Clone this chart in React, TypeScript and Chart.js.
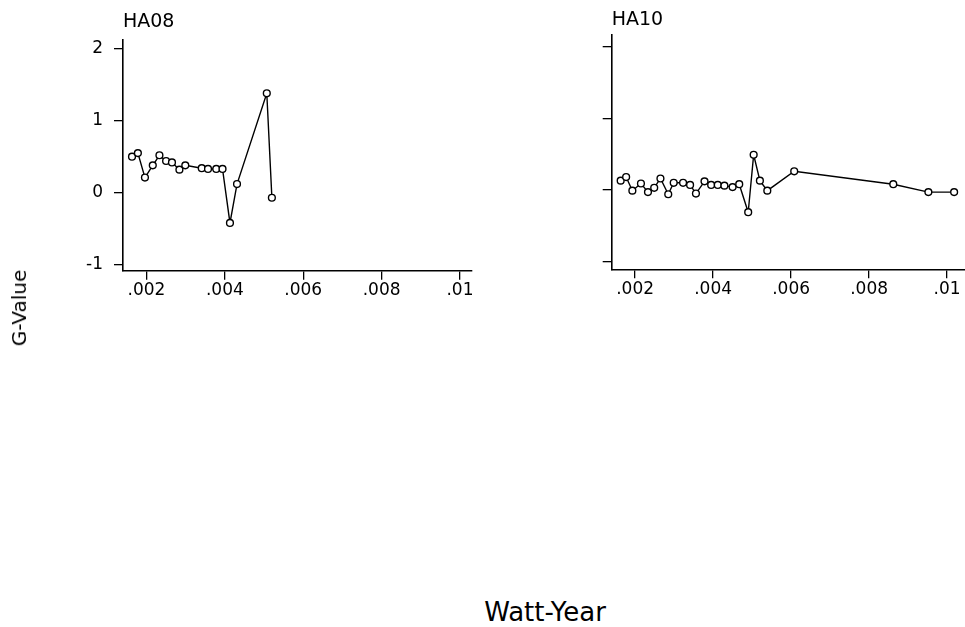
import React, { useEffect, useRef } from 'react';
import { Chart, registerables } from 'chart.js';

Chart.register(...registerables);

// ---- Data ----
const HA08_X = [0.00163, 0.00178, 0.00196, 0.00216, 0.00233, 0.0025, 0.00265, 0.00284, 0.00299, 0.00341, 0.00357, 0.00378, 0.00394, 0.00413, 0.00431, 0.00507, 0.0052];
const HA08_Y = [0.5, 0.55, 0.21, 0.38, 0.52, 0.44, 0.42, 0.32, 0.38, 0.34, 0.33, 0.33, 0.33, -0.42, 0.12, 1.38, -0.07];

const HA10_X = [0.00163, 0.00177, 0.00193, 0.00215, 0.00233, 0.00249, 0.00265, 0.00285, 0.00299, 0.00323, 0.00341, 0.00356, 0.00378, 0.00395, 0.00412, 0.00429, 0.0045, 0.00467, 0.0049, 0.00504, 0.0052, 0.00539, 0.00608, 0.00862, 0.00952, 0.01018];
const HA10_Y = [0.13, 0.18, -0.01, 0.09, -0.03, 0.03, 0.16, -0.06, 0.1, 0.1, 0.07, -0.05, 0.12, 0.07, 0.07, 0.06, 0.04, 0.08, -0.31, 0.49, 0.13, -0.01, 0.26, 0.08, -0.03, -0.03];

const X_TICK_VALUES = [0.002, 0.004, 0.006, 0.008, 0.01];
const X_TICK_LABELS = ['.002', '.004', '.006', '.008', '.01'];
const Y_TICK_VALUES = [-1, 0, 1, 2];
const Y_TICK_LABELS = ['-1', '0', '1', '2'];

const PANEL_TITLES = ['HA08', 'HA10'];
const X_TITLE = 'Watt-Year';
const Y_TITLE = 'G-Value';

const FONT = '"DejaVu Sans", "Liberation Sans", Arial, sans-serif';

type PanelProps = {
  title: string;
  xs: number[];
  ys: number[];
  showYLabels: boolean;
  left: number;
  width: number;
  height: number;
  padTop: number;
  padRight: number;
  yAxisWidth: number;
  xAxisHeight: number;
  xMin: number;
  xMax: number;
  yMin: number;
  yMax: number;
  titleBaseline: number;
};

function Panel(p: PanelProps) {
  const ref = useRef<HTMLCanvasElement | null>(null);
  useEffect(() => {
    if (!ref.current) return;
    const titlePlugin = {
      id: 'panelTitle',
      afterDraw(chart: any) {
        const ctx = chart.ctx;
        ctx.save();
        ctx.font = `19px ${FONT}`;
        ctx.fillStyle = '#000';
        ctx.textBaseline = 'alphabetic';
        ctx.textAlign = 'left';
        ctx.fillText(p.title, chart.chartArea.left, p.titleBaseline);
        ctx.restore();
      },
    };
    const chart = new Chart(ref.current, {
      type: 'line',
      data: {
        datasets: [
          {
            data: p.xs.map((x, i) => ({ x, y: p.ys[i] })),
            borderColor: '#000',
            borderWidth: 1.4,
            pointRadius: 3.4,
            pointBorderWidth: 1.4,
            pointBackgroundColor: '#fff',
            pointBorderColor: '#000',
            tension: 0,
            fill: false,
          },
        ],
      },
      options: {
        responsive: false,
        animation: false,
        devicePixelRatio: 1,
        events: [],
        layout: { padding: { top: p.padTop, right: p.padRight, left: 0, bottom: 0 } },
        plugins: {
          legend: { display: false },
          tooltip: { enabled: false },
          title: { display: false },
        },
        scales: {
          x: {
            type: 'linear',
            min: p.xMin,
            max: p.xMax,
            afterBuildTicks: (s: any) => {
              s.ticks = X_TICK_VALUES.map((v) => ({ value: v }));
            },
            afterFit: (s: any) => {
              s.height = p.xAxisHeight;
            },
            ticks: {
              callback: (v: any) => {
                const i = X_TICK_VALUES.indexOf(v);
                return i >= 0 ? X_TICK_LABELS[i] : '';
              },
              font: { family: FONT, size: 17 },
              color: '#000',
              padding: 1,
              maxRotation: 0,
              autoSkip: false,
            },
            grid: { drawOnChartArea: false, drawTicks: true, tickLength: 9, color: '#000', lineWidth: 1.3 },
            border: { color: '#000', width: 1.6 },
          },
          y: {
            type: 'linear',
            min: p.yMin,
            max: p.yMax,
            afterBuildTicks: (s: any) => {
              s.ticks = Y_TICK_VALUES.map((v) => ({ value: v }));
            },
            afterFit: (s: any) => {
              s.width = p.yAxisWidth;
            },
            ticks: {
              callback: (v: any) => {
                if (!p.showYLabels) return '';
                const i = Y_TICK_VALUES.indexOf(v);
                return i >= 0 ? Y_TICK_LABELS[i] : '';
              },
              font: { family: FONT, size: 17 },
              color: '#000',
              padding: 11,
              autoSkip: false,
            },
            grid: { drawOnChartArea: false, drawTicks: true, tickLength: 9, color: '#000', lineWidth: 1.3 },
            border: { color: '#000', width: 1.6 },
          },
        },
      } as any,
      plugins: [titlePlugin],
    });
    return () => chart.destroy();
  }, []);
  return (
    <canvas
      ref={ref}
      width={p.width}
      height={p.height}
      style={{ position: 'absolute', left: p.left, top: 0, width: p.width, height: p.height }}
    />
  );
}

export default function App() {
  return (
    <div
      style={{
        position: 'fixed',
        left: 0,
        top: 0,
        width: 965,
        height: 627,
        overflow: 'hidden',
        background: '#fff',
      }}
    >
      <Panel
        title={PANEL_TITLES[0]}
        xs={HA08_X}
        ys={HA08_Y}
        showYLabels={true}
        left={0}
        width={500}
        height={300}
        padTop={40}
        padRight={28.3}
        yAxisWidth={123}
        xAxisHeight={29.3}
        xMin={0.0014}
        xMax={0.0103}
        yMin={-1.083}
        yMax={2.12}
        titleBaseline={27}
      />
      <Panel
        title={PANEL_TITLES[1]}
        xs={HA10_X}
        ys={HA10_Y}
        showYLabels={false}
        left={560}
        width={420}
        height={300}
        padTop={35}
        padRight={13.4}
        yAxisWidth={51.7}
        xAxisHeight={30.7}
        xMin={0.0014}
        xMax={0.0105}
        yMin={-1.106}
        yMax={2.16}
        titleBaseline={25}
      />
      <div
        style={{
          position: 'absolute',
          left: 19,
          top: 308,
          transform: 'translate(-50%, -50%) rotate(-90deg)',
          fontFamily: FONT,
          fontSize: 20,
          lineHeight: '20px',
          whiteSpace: 'nowrap',
          color: '#000',
        }}
      >
        {Y_TITLE}
      </div>
      <div
        style={{
          position: 'absolute',
          left: 545,
          top: 599,
          transform: 'translateX(-50%)',
          fontFamily: FONT,
          fontSize: 26,
          lineHeight: '26px',
          whiteSpace: 'nowrap',
          color: '#000',
        }}
      >
        {X_TITLE}
      </div>
    </div>
  );
}
